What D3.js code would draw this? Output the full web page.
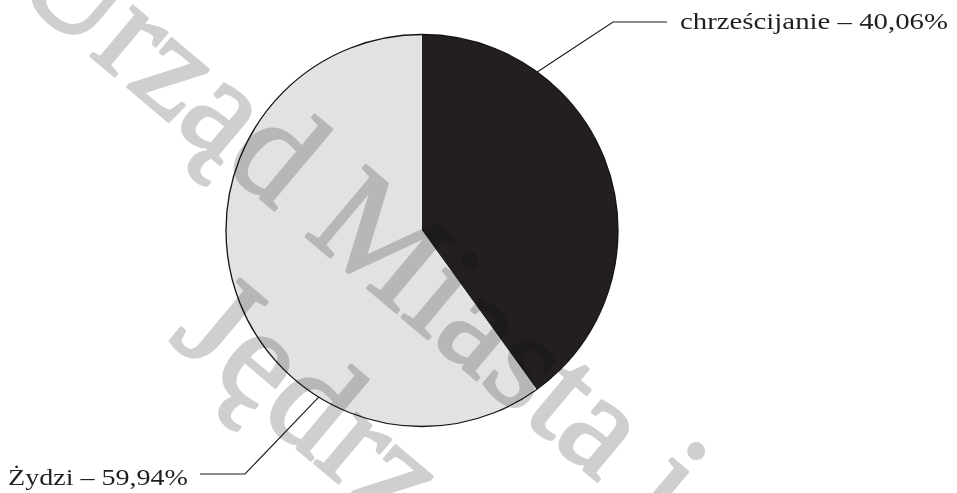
<!DOCTYPE html>
<html>
<head>
<meta charset="utf-8">
<script src="https://cdn.jsdelivr.net/npm/d3@7"></script>
<style>
  html, body { margin: 0; padding: 0; background: #fff; }
  svg { display: block; }
</style>
</head>
<body>
<svg id="chart" width="957" height="493"></svg>
<script>
// Religious structure of the population (share in %)
const categories = ["chrześcijanie", "Żydzi"];
const shares = [40.06, 59.94];
const sliceColors = ["#231f20", "#e1e2e4"];
const watermarkLines = ["Urząd Miasta i Gminy", "Jędrzejów"];

const width = 957, height = 493;
const cx = 422, cy = 230.5, radius = 196;

const svg = d3.select("#chart");

// Pie, starting at 12 o'clock and running clockwise in data order
const pie = d3.pie().sort(null).value(d => d)(shares);
const arc = d3.arc().innerRadius(0).outerRadius(radius);

const pieG = svg.append("g").attr("transform", `translate(${cx},${cy})`);
pieG.selectAll("path.slice")
  .data(pie)
  .join("path")
  .attr("class", "slice")
  .attr("d", arc)
  .attr("fill", (d, i) => sliceColors[i]);

pieG.append("circle")
  .attr("r", radius)
  .attr("fill", "none")
  .attr("stroke", "#141213")
  .attr("stroke-width", 1.3);

// Label callouts: anchor on the rim, elbow, then a horizontal run to the text
const deg = Math.PI / 180;
const callouts = [
  { rimAngle: 36 * deg, elbow: [613, 22], end: [667, 22], textPos: [680, 28.5], textWidth: 268 },
  { rimAngle: 211.8 * deg, elbow: [245, 474], end: [200, 474], textPos: [8, 485], textWidth: 180 }
];

const fmt = v => v.toFixed(2).replace(".", ",") + "%";

callouts.forEach((c, i) => {
  const p0 = [cx + radius * Math.sin(c.rimAngle), cy - radius * Math.cos(c.rimAngle)];
  svg.append("path")
    .attr("d", d3.line()([p0, c.elbow, c.end]))
    .attr("fill", "none")
    .attr("stroke", "#1a1a1a")
    .attr("stroke-width", 1.1);
  svg.append("text")
    .attr("x", c.textPos[0])
    .attr("y", c.textPos[1])
    .attr("font-family", "'Liberation Serif', 'Times New Roman', serif")
    .attr("font-size", 24)
    .attr("fill", "#231f20")
    .attr("textLength", c.textWidth)
    .attr("lengthAdjust", "spacingAndGlyphs")
    .text(`${categories[i]} – ${fmt(shares[i])}`);
});

// Diagonal watermark over the whole sheet
const wm = svg.append("g")
  .attr("transform", "translate(303,234) rotate(40)")
  .style("mix-blend-mode", "multiply")
  .attr("font-family", "'Liberation Serif', 'Times New Roman', serif")
  .attr("font-size", 142)
  .attr("fill", "#cfcfcf")
  .attr("stroke", "#cfcfcf")
  .attr("stroke-width", 3)
  .attr("stroke-linejoin", "round");

const line1 = wm.append("text").attr("y", 0).text(watermarkLines[0]);
const mIndex = watermarkLines[0].indexOf("M");
const mStart = line1.node().getStartPositionOfChar(mIndex).x;
line1.attr("x", -mStart);

wm.append("text").attr("x", -36).attr("y", 168).text(watermarkLines[1]);
</script>
</body>
</html>
